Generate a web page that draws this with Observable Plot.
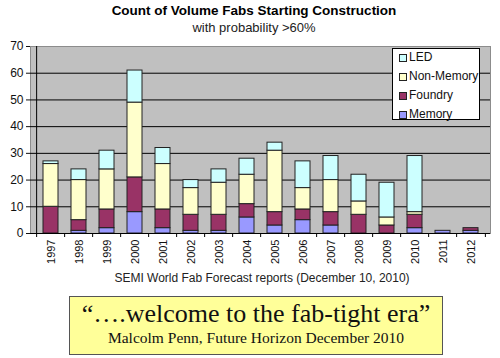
<!DOCTYPE html>
<html><head><meta charset="utf-8">
<script src="https://cdn.jsdelivr.net/npm/d3@7"></script>
<script src="https://cdn.jsdelivr.net/npm/@observablehq/plot@0.6"></script>
<style>
body{margin:0;width:500px;height:358px;position:relative;background:#fff;font-family:"Liberation Sans",Arial,sans-serif;overflow:hidden}
#title{position:absolute;left:0;top:3px;width:508px;text-align:center;font-weight:bold;font-size:13.5px;line-height:15px;color:#000}
#subtitle{position:absolute;left:0;top:20px;width:508px;text-align:center;font-size:13px;line-height:15px;color:#222}
#chart{position:absolute;left:0;top:38px}
#legend{position:absolute;left:392px;top:48px;width:88px;height:72px;background:#fff;border:1px solid #000;box-sizing:border-box;font-size:12px;color:#111}
#legend .it{height:19px;line-height:19px;display:flex;align-items:center}
#legend .it:first-child{margin-top:-1px}
#legend .sw{width:6px;height:6px;border:1px solid #222;margin-left:6px;margin-right:2px}
#xlabel{position:absolute;left:0;top:271px;width:524px;text-align:center;font-size:12px;line-height:14px;color:#222}
#quote{position:absolute;left:69px;top:296px;width:374px;height:59px;background:#ffff99;border:1px solid #555;box-sizing:border-box;text-align:center;font-family:"Liberation Serif","Times New Roman",serif;color:#111}
#quote .q1{font-size:26px;line-height:27px;margin-top:3px}
#quote .q2{font-size:15.5px;line-height:18px;margin-top:2px}
</style></head><body>
<div id="title">Count of Volume Fabs Starting Construction</div>
<div id="subtitle">with probability &gt;60%</div>
<div id="chart"></div>
<div id="legend"></div>
<div id="xlabel">SEMI World Fab Forecast reports (December 10, 2010)</div>
<div id="quote"><div class="q1">“….welcome to the fab-tight era”</div><div class="q2">Malcolm Penn, Future Horizon December 2010</div></div>
<script>
const years = ["1997","1998","1999","2000","2001","2002","2003","2004","2005","2006","2007","2008","2009","2010","2011","2012"];
const memory    = [0, 1, 2,  8,  2,  1,  1,  6,  3, 5,  3,  0,  0,  2, 1, 1];
const foundry   = [10,4, 7, 13,  7,  6,  6,  5,  5, 4,  5,  7,  3,  5, 0, 1];
const nonMemory = [16,15,15,28, 17, 10, 12, 11, 23, 8, 12,  5,  3,  1, 0, 0];
const led       = [1, 4, 7, 12,  6,  3,  5,  6,  3, 10, 9, 10, 13, 21, 0, 0];
const seriesNames  = ["Memory","Foundry","Non-Memory","LED"];
const seriesColors = ["#9999ff","#993366","#ffffcc","#ccffff"];
const legendOrder  = ["LED","Non-Memory","Foundry","Memory"];
const yTicks = [0,10,20,30,40,50,60,70];

const seriesValues = [memory, foundry, nonMemory, led];
const rows = [];
years.forEach((yr, i) => seriesNames.forEach((s, j) => {
  if (seriesValues[j][i] > 0) rows.push({year: yr, type: s, value: seriesValues[j][i]});
}));

const W = 500, H = 250, ml = 30, mr = 10, mt = 8, mb = 55;
const half = (W - ml - mr) / years.length / 2;
const last = years[years.length - 1];

const chart = Plot.plot({
  width: W, height: H, marginLeft: ml, marginRight: mr, marginTop: mt, marginBottom: mb,
  style: {fontFamily: "Liberation Sans, Arial, sans-serif", fontSize: "12px", color: "#111", background: "transparent", overflow: "visible"},
  x: {domain: years, paddingInner: 0.47, paddingOuter: 0.235, label: null},
  y: {domain: [0, 70], label: null},
  color: {domain: seriesNames, range: seriesColors},
  marks: [
    Plot.frame({fill: "#c0c0c0", stroke: "#8c8c8c"}),
    Plot.ruleY(yTicks.filter(v => v > 0 && v < 70), {stroke: "#000", strokeWidth: 1}),
    Plot.barY(rows, {x: "year", y: "value", fill: "type", order: seriesNames, stroke: "#222", strokeWidth: 1}),
    Plot.ruleY([0], {stroke: "#000"}),
    Plot.ruleX([years[0]], {x: d => d, dx: -half, y1: 0, y2: 70, stroke: "#000"}),
    Plot.ruleX(years, {x: d => d, dx: -half, y1: 0, y2: 0, insetBottom: -4, stroke: "#000"}),
    Plot.ruleX([last], {x: d => d, dx: half, y1: 0, y2: 0, insetBottom: -4, stroke: "#000"}),
    Plot.axisY({ticks: yTicks, tickSize: 4, tickPadding: 3, fontSize: 12, label: null}),
    Plot.axisX({tickSize: 0, tickRotate: -90, tickPadding: 6, fontSize: 11, label: null})
  ]
});
document.getElementById("chart").appendChild(chart);

const lg = document.getElementById("legend");
legendOrder.forEach(name => {
  const it = document.createElement("div");
  it.className = "it";
  const sw = document.createElement("span");
  sw.className = "sw";
  sw.style.background = seriesColors[seriesNames.indexOf(name)];
  const tx = document.createElement("span");
  tx.textContent = name;
  it.appendChild(sw); it.appendChild(tx);
  lg.appendChild(it);
});
</script>
</body></html>
